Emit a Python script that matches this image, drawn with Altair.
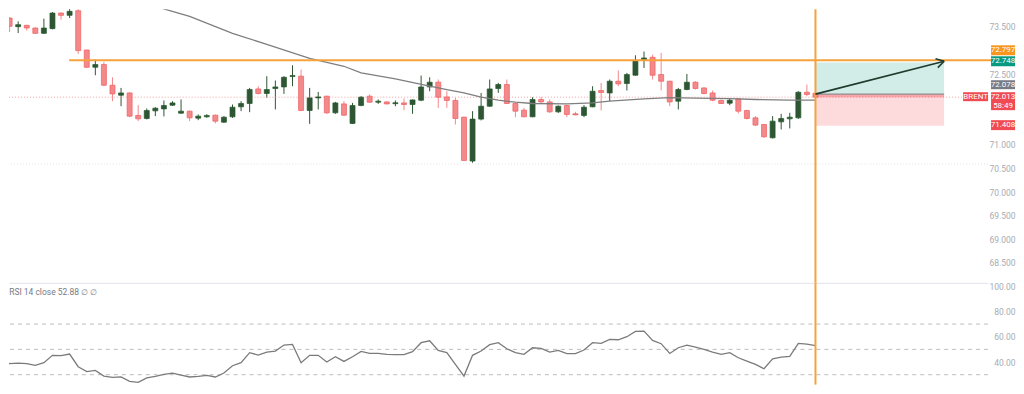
import altair as alt
import pandas as pd

# ---------------- data ----------------
opens = [73.820, 73.689, 73.507, 73.535, 73.478, 73.365, 73.465, 73.795, 73.746, 73.845,
         73.012, 72.647, 72.704, 72.266, 72.055, 72.103, 71.626, 71.562, 71.723, 71.765,
         71.843, 71.674, 71.717, 71.569, 71.596, 71.632, 71.484, 71.596, 71.808, 71.879,
         72.188, 72.091, 72.196, 72.230, 72.450, 72.457, 71.731, 71.998, 72.034, 71.681,
         71.871, 71.457, 71.837, 72.034, 71.907, 71.913, 71.875, 71.892, 71.858, 71.949,
         72.230, 72.330, 72.019, 71.943, 71.590, 70.660, 71.548, 71.822, 72.196, 72.281,
         71.879, 71.738, 71.596, 71.964, 71.913, 71.702, 71.837, 71.660, 71.626, 71.808,
         72.154, 72.103, 72.351, 72.302, 72.478, 72.810, 72.858, 72.492, 72.351, 71.928,
         72.175, 72.330, 72.209, 72.103, 71.943, 71.886, 71.977, 71.731, 71.575, 71.435,
         71.152, 71.490, 71.554, 71.575, 72.118, 72.097]
closes = [73.799, 73.514, 73.549, 73.478, 73.365, 73.478, 73.795, 73.746, 73.831, 73.000,
          72.647, 72.704, 72.266, 72.082, 72.103, 71.611, 71.554, 71.731, 71.780, 71.837,
          71.892, 71.717, 71.575, 71.611, 71.626, 71.505, 71.590, 71.801, 71.879, 72.175,
          72.091, 72.175, 72.230, 72.435, 72.471, 71.731, 71.998, 72.019, 71.681, 71.892,
          71.632, 71.837, 72.013, 71.907, 71.928, 71.871, 71.896, 71.858, 71.955, 72.230,
          72.330, 72.013, 71.943, 71.562, 70.674, 71.548, 71.822, 72.188, 72.281, 71.879,
          71.717, 71.596, 71.964, 71.913, 71.702, 71.822, 71.647, 71.638, 71.801, 72.139,
          72.112, 72.351, 72.294, 72.492, 72.795, 72.843, 72.478, 72.351, 71.913, 72.175,
          72.330, 72.196, 72.091, 71.949, 71.879, 71.949, 71.717, 71.562, 71.421, 71.173,
          71.505, 71.562, 71.590, 72.118, 72.070, 72.013]
highs = [73.852, 73.704, 73.619, 73.545, 73.492, 73.676, 73.816, 73.809, 73.957, 73.936,
         73.017, 72.810, 72.759, 72.435, 72.209, 72.118, 71.844, 71.774, 71.801, 71.943,
         71.928, 71.964, 71.727, 71.647, 71.653, 71.643, 71.611, 71.858, 71.928, 72.209,
         72.245, 72.457, 72.366, 72.457, 72.689, 72.598, 72.209, 72.125, 72.044, 71.913,
         71.928, 71.892, 72.034, 72.070, 71.964, 71.928, 71.943, 71.985, 71.964, 72.471,
         72.435, 72.387, 72.139, 71.998, 71.600, 71.717, 72.103, 72.387, 72.315, 72.387,
         71.886, 71.786, 72.013, 72.019, 71.964, 71.837, 71.850, 71.702, 71.843, 72.245,
         72.315, 72.387, 72.577, 72.526, 72.900, 72.980, 72.915, 72.949, 72.361, 72.209,
         72.505, 72.351, 72.224, 72.154, 71.964, 71.985, 71.991, 71.744, 71.611, 71.442,
         71.611, 71.660, 71.681, 72.139, 72.281, 72.107]
lows = [73.767, 73.393, 73.372, 73.423, 73.351, 73.355, 73.450, 73.655, 73.689, 72.928,
        72.632, 72.478, 72.245, 71.928, 71.822, 71.590, 71.505, 71.541, 71.611, 71.605,
        71.829, 71.664, 71.505, 71.526, 71.579, 71.457, 71.469, 71.575, 71.717, 71.695,
        72.070, 71.998, 71.753, 72.082, 72.245, 71.717, 71.448, 71.753, 71.660, 71.660,
        71.611, 71.448, 71.822, 71.892, 71.871, 71.858, 71.822, 71.738, 71.660, 71.928,
        72.139, 71.786, 71.786, 71.435, 70.660, 70.624, 71.520, 71.808, 72.103, 71.871,
        71.590, 71.590, 71.590, 71.892, 71.681, 71.681, 71.590, 71.632, 71.590, 71.801,
        71.731, 71.928, 72.245, 72.154, 72.467, 72.632, 72.387, 72.154, 71.822, 71.753,
        72.161, 72.175, 72.070, 71.928, 71.871, 71.843, 71.668, 71.541, 71.400, 71.152,
        71.140, 71.330, 71.351, 71.554, 72.034, 72.005]
rsi = [41.6, 38.7, 39.2, 38.7, 37.4, 39.5, 45.3, 45.0, 46.3, 36.3,
       32.4, 33.4, 28.9, 27.9, 28.2, 24.7, 23.9, 27.4, 28.7, 30.3,
       31.3, 29.7, 28.2, 28.7, 29.5, 28.2, 31.3, 37.1, 39.5, 47.4,
       45.5, 47.9, 48.7, 53.4, 53.9, 39.5, 45.3, 45.3, 40.0, 44.2,
       40.5, 44.2, 48.4, 46.8, 46.8, 46.1, 45.8, 45.8, 48.2, 55.3,
       56.8, 49.2, 47.4, 38.2, 28.9, 45.3, 48.7, 53.7, 55.3, 50.5,
       47.4, 46.1, 51.3, 50.8, 47.9, 49.2, 46.6, 46.6, 49.5, 55.3,
       54.7, 57.9, 57.6, 60.0, 64.2, 64.5, 57.1, 54.5, 46.8, 51.3,
       53.4, 51.8, 50.0, 47.9, 46.1, 47.4, 43.4, 40.8, 38.2, 34.7,
       42.6, 43.9, 44.5, 54.7, 54.2, 52.9]
ma_idx = [12, 16, 22, 27, 31, 36, 40, 42, 46, 50, 52, 54, 56, 58, 60, 62, 66, 69, 71,
          75, 78, 81, 85, 88, 92, 95]
ma_val = [74.25, 74.04, 73.725, 73.366, 73.133, 72.837, 72.668, 72.526, 72.399, 72.245,
          72.175, 72.103, 72.013, 71.949, 71.907, 71.879, 71.871, 71.892, 71.928,
          71.977, 72.002, 71.991, 71.981, 71.964, 71.949, 71.949]

# 73.000, 72.000 and 71.500 sit behind the price tags in the reference
price_ticks = [68.5, 69.0, 69.5, 70.0, 70.5, 71.0, 72.5, 73.5]
rsi_ticks = [40, 60, 80, 100]
rsi_bands = [70, 50, 30]

resistance = 72.797
resistance_from = 7.95
signal_idx = 95
last_price = 72.013
entry, target, stop = 72.078, 72.748, 71.408
tool_end = 110.0
arrow_tip = 72.774
grid_level = 70.596

# ---------------- styling ----------------
FONT = "Roboto"
GREEN, GREEN_EDGE, GREEN_WICK = "#35953f", "#22592a", "#2f5535"
RED, RED_WICK = "#f15b5d", "#f3898b"
ORANGE = "#f6a23c"
LABEL_GREY = "#a8abb3"
X_DOM = [0.93, 115.13]
P_DOM = [68.08, 73.873]
R_DOM = [22.15, 102.6]
W, H_MAIN, H_RSI = 981, 274, 102
TAG_X1, TAG_X2 = 115.48, 118.28

xs = alt.Scale(domain=X_DOM, nice=False, zero=False, padding=0)
ps = alt.Scale(domain=P_DOM, nice=False, zero=False, padding=0)
rs = alt.Scale(domain=R_DOM, nice=False, zero=False, padding=0)

x_axis_main = alt.Axis(labels=False, ticks=False, grid=False, domain=True,
                       domainColor="#e0e3eb", title=None)
p_axis = alt.Axis(orient="right", values=price_ticks, format=".3f", labelAlign="right",
                  labelPadding=27, ticks=False, domain=False, grid=False,
                  labelColor=LABEL_GREY, labelFontSize=8.5, labelFont=FONT, title=None)
r_axis = alt.Axis(orient="right", values=rsi_ticks, format=".2f", labelAlign="right",
                  labelPadding=27, ticks=False, domain=False, grid=False,
                  labelColor=LABEL_GREY, labelFontSize=8.5, labelFont=FONT, title=None)


def MX(f):
    return alt.X(f, type="quantitative", scale=xs, axis=x_axis_main)


def RX(f):
    return alt.X(f, type="quantitative", scale=xs, axis=None)


def PY(f):
    return alt.Y(f, type="quantitative", scale=ps, axis=p_axis)


def RY(f):
    return alt.Y(f, type="quantitative", scale=rs, axis=r_axis)


candles = pd.DataFrame({"i": list(range(len(opens))), "open": opens, "high": highs,
                        "low": lows, "close": closes})
candles["dir"] = ["up" if c >= o else "down" for o, c in zip(opens, closes)]
dir_fill = alt.Scale(domain=["up", "down"], range=[GREEN, RED])
dir_edge = alt.Scale(domain=["up", "down"], range=[GREEN_EDGE, RED])
dir_wick = alt.Scale(domain=["up", "down"], range=[GREEN_WICK, RED_WICK])

grid = alt.Chart(pd.DataFrame({"y": [grid_level]})).mark_rule(
    color="#e3e3e3", strokeDash=[1, 2], strokeWidth=1).encode(y=PY("y"))

price_line = alt.Chart(pd.DataFrame({"a": [X_DOM[0]], "b": [112.22], "y": [last_price]})).mark_rule(
    color="#f3a1a4", strokeDash=[1, 2], strokeWidth=1).encode(x=MX("a"), x2="b", y=PY("y"))

zones = pd.DataFrame({
    "a": [signal_idx, signal_idx, signal_idx],
    "b": [tool_end, tool_end, tool_end],
    "lo": [entry, stop, last_price],
    "hi": [target, entry, entry],
    "fill": ["#089981", "#f23645", "#f23645"],
    "op": [0.18, 0.18, 0.32],
})
zone_rects = alt.Chart(zones).mark_rect().encode(
    x=MX("a"), x2="b", y=PY("lo"), y2="hi",
    color=alt.Color("fill:N", scale=None), opacity=alt.Opacity("op:Q", scale=None))

entry_line = alt.Chart(pd.DataFrame({"a": [signal_idx], "b": [tool_end], "y": [entry]})).mark_rule(
    color="#8e8e8e", strokeWidth=1.2).encode(x=MX("a"), x2="b", y=PY("y"))

wicks = alt.Chart(candles).mark_rule(clip=True, strokeWidth=1).encode(
    x=MX("i"), y=PY("low"), y2="high",
    color=alt.Color("dir:N", scale=dir_wick, legend=None))
bodies = alt.Chart(candles).mark_bar(clip=True, size=5, strokeWidth=0.7).encode(
    x=MX("i"), y=PY("open"), y2="close",
    color=alt.Color("dir:N", scale=dir_fill, legend=None),
    stroke=alt.Stroke("dir:N", scale=dir_edge, legend=None))

ma = alt.Chart(pd.DataFrame({"i": ma_idx, "v": ma_val})).mark_line(
    clip=True, color="#7f7f7f", strokeWidth=1.3).encode(x=MX("i"), y=PY("v"))

res_line = alt.Chart(pd.DataFrame({"a": [resistance_from], "b": [TAG_X1], "y": [resistance]})).mark_rule(
    color=ORANGE, strokeWidth=2).encode(x=MX("a"), x2="b", y=PY("y"))
vline_main = alt.Chart(pd.DataFrame({"i": [signal_idx]})).mark_rule(
    color=ORANGE, strokeWidth=2).encode(x=MX("i"))

arrow = pd.DataFrame({
    "a": [signal_idx, tool_end + 0.01, tool_end + 0.01],
    "b": [tool_end + 0.01, 109.0, 109.27],
    "y1": [entry, arrow_tip, arrow_tip],
    "y2": [arrow_tip, 72.825, 72.638],
})
arrow_marks = alt.Chart(arrow).mark_rule(color="#1e3b2d", strokeWidth=1.6).encode(
    x=MX("a"), x2="b", y=PY("y1"), y2="y2")

tags = pd.DataFrame({
    "a": [TAG_X1, TAG_X1, TAG_X1, TAG_X1, TAG_X1, 112.22],
    "b": [TAG_X2, TAG_X2, TAG_X2, TAG_X2, TAG_X2, 115.13],
    "lo": [72.901, 72.668, 72.182, 71.738, 71.315, 71.928],
    "hi": [73.112, 72.879, 72.372, 72.118, 71.526, 72.118],
    "fill": ["#f7971f", "#089981", "#787b86", "#f04b52", "#f04b52", "#f04b52"],
})
tag_rects = alt.Chart(tags).mark_rect(clip=False).encode(
    x=MX("a"), x2="b", y=PY("lo"), y2="hi", color=alt.Color("fill:N", scale=None))
tag_text = pd.DataFrame({
    "x": [116.88, 116.88, 116.88, 116.88, 116.88, 116.88, 113.68],
    "y": [73.006, 72.774, 72.277, 72.019, 71.829, 71.421, 72.023],
    "t": [f"{resistance:.3f}", f"{target:.3f}", f"{entry:.3f}", f"{last_price:.3f}",
          "58:49", f"{stop:.3f}", "BRENT"],
})
tag_labels = alt.Chart(tag_text).mark_text(
    clip=False, color="white", font=FONT, fontSize=8, align="center", baseline="middle").encode(
    x=MX("x"), y=PY("y"), text="t:N")

main = alt.layer(wicks, grid, price_line, zone_rects, entry_line, bodies, ma, res_line,
                 vline_main, arrow_marks, tag_rects, tag_labels).properties(width=W, height=H_MAIN)

# ---------------- RSI panel ----------------
rsi_df = pd.DataFrame({"i": list(range(len(rsi))), "v": rsi})
bands = alt.Chart(pd.DataFrame({"v": rsi_bands})).mark_rule(
    color="#bdbdbd", strokeDash=[4, 4], strokeWidth=1).encode(y=RY("v"))
rsi_line = alt.Chart(rsi_df).mark_line(clip=True, color="#7b7b7b", strokeWidth=1.3).encode(
    x=RX("i"), y=RY("v"))
vline_rsi = alt.Chart(pd.DataFrame({"i": [signal_idx]})).mark_rule(
    color=ORANGE, strokeWidth=2).encode(x=RX("i"))
header = alt.Chart(pd.DataFrame({"x": [0.95], "y": [95.5],
                                 "t": [f"RSI 14 close  {rsi[-1] - 0.02:.2f}  \u2205  \u2205"]})).mark_text(
    clip=False, color="#787b86", font=FONT, fontSize=8.5, align="left", baseline="middle").encode(
    x=RX("x"), y=RY("y"), text="t:N")

rsi_panel = alt.layer(bands, rsi_line, vline_rsi, header).properties(width=W, height=H_RSI)

chart = alt.vconcat(main, rsi_panel, spacing=0, bounds="flush").properties(
    padding=0, background="white").configure_view(stroke=None)

chart.save("out.html", embed_options={"renderer": "svg", "actions": False})
